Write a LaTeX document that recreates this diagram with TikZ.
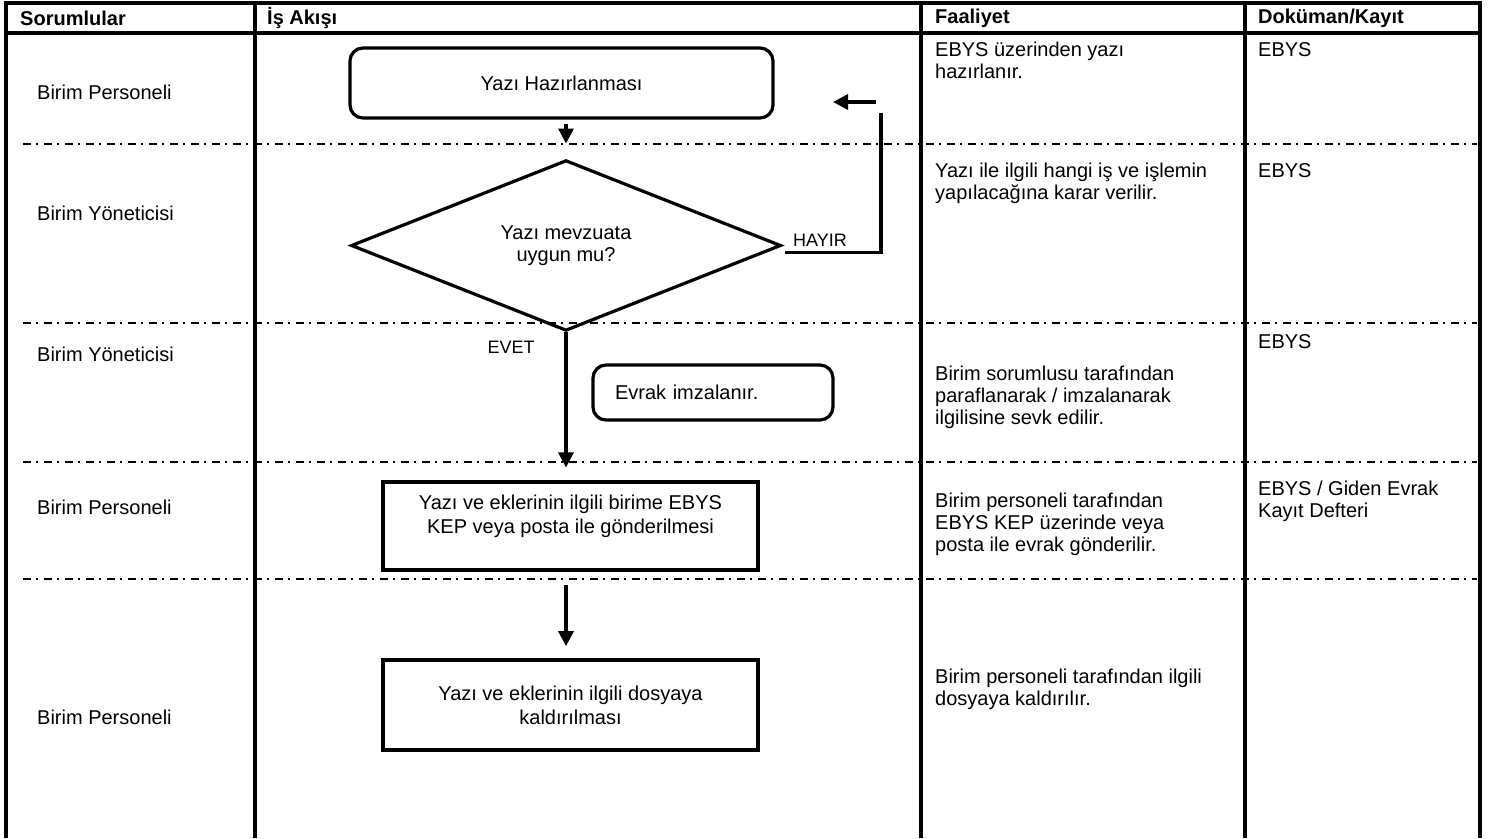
\documentclass[tikz,border=0pt]{standalone}
\usepackage{fontspec}
\setmainfont{Liberation Sans}
\usetikzlibrary{shapes.geometric,arrows.meta,calc}

\begin{document}
\begin{tikzpicture}[x=1pt,y=-1pt,
    yazi/.style={font=\fontsize{20}{22}\selectfont, inner sep=0pt, align=left},
    baslik/.style={font=\bfseries\fontsize{20}{22}\selectfont, anchor=west, inner sep=0pt},
    sol/.style={yazi, anchor=west},
    sag/.style={yazi, anchor=north west},
    kucuk/.style={font=\fontsize{18}{20}\selectfont, inner sep=0pt},
    kutu/.style={draw, line width=3.6pt, font=\fontsize{20}{24}\selectfont, align=center, inner sep=0pt},
    yuvarlak/.style={kutu, rounded corners=13pt, line width=3.2pt},
    karar/.style={draw, diamond, line width=3.2pt, font=\fontsize{20}{22}\selectfont, align=center, inner sep=0pt},
    ok/.style={line width=3.2pt, -{Triangle[length=15pt,width=15pt]}},
    ayrac/.style={line width=1.8pt, dash pattern=on 8pt off 5pt on 2pt off 6pt}]

\useasboundingbox (0,0) rectangle (1490,838);

% tablo
\draw[line width=4pt] (6,3) -- (1480,3);
\draw[line width=4pt] (6,33) -- (1480,33);
\foreach \x in {6,255,921,1245,1480}
    \draw[line width=4pt] (\x,1) -- (\x,838);
\foreach \y in {144,323,462,579}
    \draw[ayrac] (23,\y) -- (1477,\y);

\node[baslik] (h1) at (20,18) {Sorumlular};
\node[baslik] (h2) at (267,18) {İş Akışı};
\node[baslik] (h3) at (935,18) {Faaliyet};
\node[baslik] (h4) at (1258,18) {Doküman/Kayıt};

% sorumlular
\node[sol] (s1) at (37,92) {Birim Personeli};
\node[sol] (s2) at (37,213) {Birim Yöneticisi};
\node[sol] (s3) at (37,354) {Birim Yöneticisi};
\node[sol] (s4) at (37,507) {Birim Personeli};
\node[sol] (s5) at (37,717) {Birim Personeli};

% is akisi
\node[yuvarlak, minimum width=423pt, minimum height=70pt] (b1) at (561.5,83) {Yazı Hazırlanması};
\node[karar, minimum width=430pt, minimum height=155pt] (d1) at (566,245.5) {Yazı mevzuata\\uygun mu?};
\node[yuvarlak, align=left, text width=196pt, inner xsep=22pt, minimum height=55pt] (b2) at (713,392.5) {Evrak imzalanır.};
\node[kutu, minimum width=375pt, minimum height=88pt, text depth=24pt] (b3) at (570.5,526) {Yazı ve eklerinin ilgili birime EBYS\\KEP veya posta ile gönderilmesi};
\node[kutu, minimum width=375pt, minimum height=90pt] (b4) at (570.5,705) {Yazı ve eklerinin ilgili dosyaya\\kaldırılması};

\node[kucuk, anchor=west] (hayir) at (793,240) {HAYIR};
\node[kucuk] (evet) at (511,347) {EVET};

\coordinate (donus) at (881,113);
\coordinate (geriA) at (876,102);
\coordinate (geriB) at (833,102);

\draw[ok] ($(b1.south -| d1.north)+(0,4)$) -- ($(d1.north)+(0,-15)$);
\draw[line width=3.2pt] ($(d1.east)+(2,7)$) -| (donus);
\draw[ok] (geriA) -- (geriB);
\draw[ok] (d1.south) -- ($(d1.south)+(0,135)$);
\draw[ok] ($(b3.south -| d1.south)+(0,13)$) -- ($(b4.north -| d1.south)+(0,-12)$);

% faaliyet
\node[sag] (f1) at (935,42) {EBYS üzerinden yazı\\hazırlanır.};
\node[sag] (f2) at (935,163) {Yazı ile ilgili hangi iş ve işlemin\\yapılacağına karar verilir.};
\node[sag] (f3) at (935,366) {Birim sorumlusu tarafından\\paraflanarak / imzalanarak\\ilgilisine sevk edilir.};
\node[sag] (f4) at (935,493) {Birim personeli tarafından\\EBYS KEP üzerinde veya\\posta ile evrak gönderilir.};
\node[sag] (f5) at (935,669) {Birim personeli tarafından ilgili\\dosyaya kaldırılır.};

% dokuman
\node[sag] (k1) at (1258,42) {EBYS};
\node[sag] (k2) at (1258,163) {EBYS};
\node[sag] (k3) at (1258,334) {EBYS};
\node[sag] (k4) at (1258,481) {EBYS / Giden Evrak\\Kayıt Defteri};

\end{tikzpicture}
\end{document}
